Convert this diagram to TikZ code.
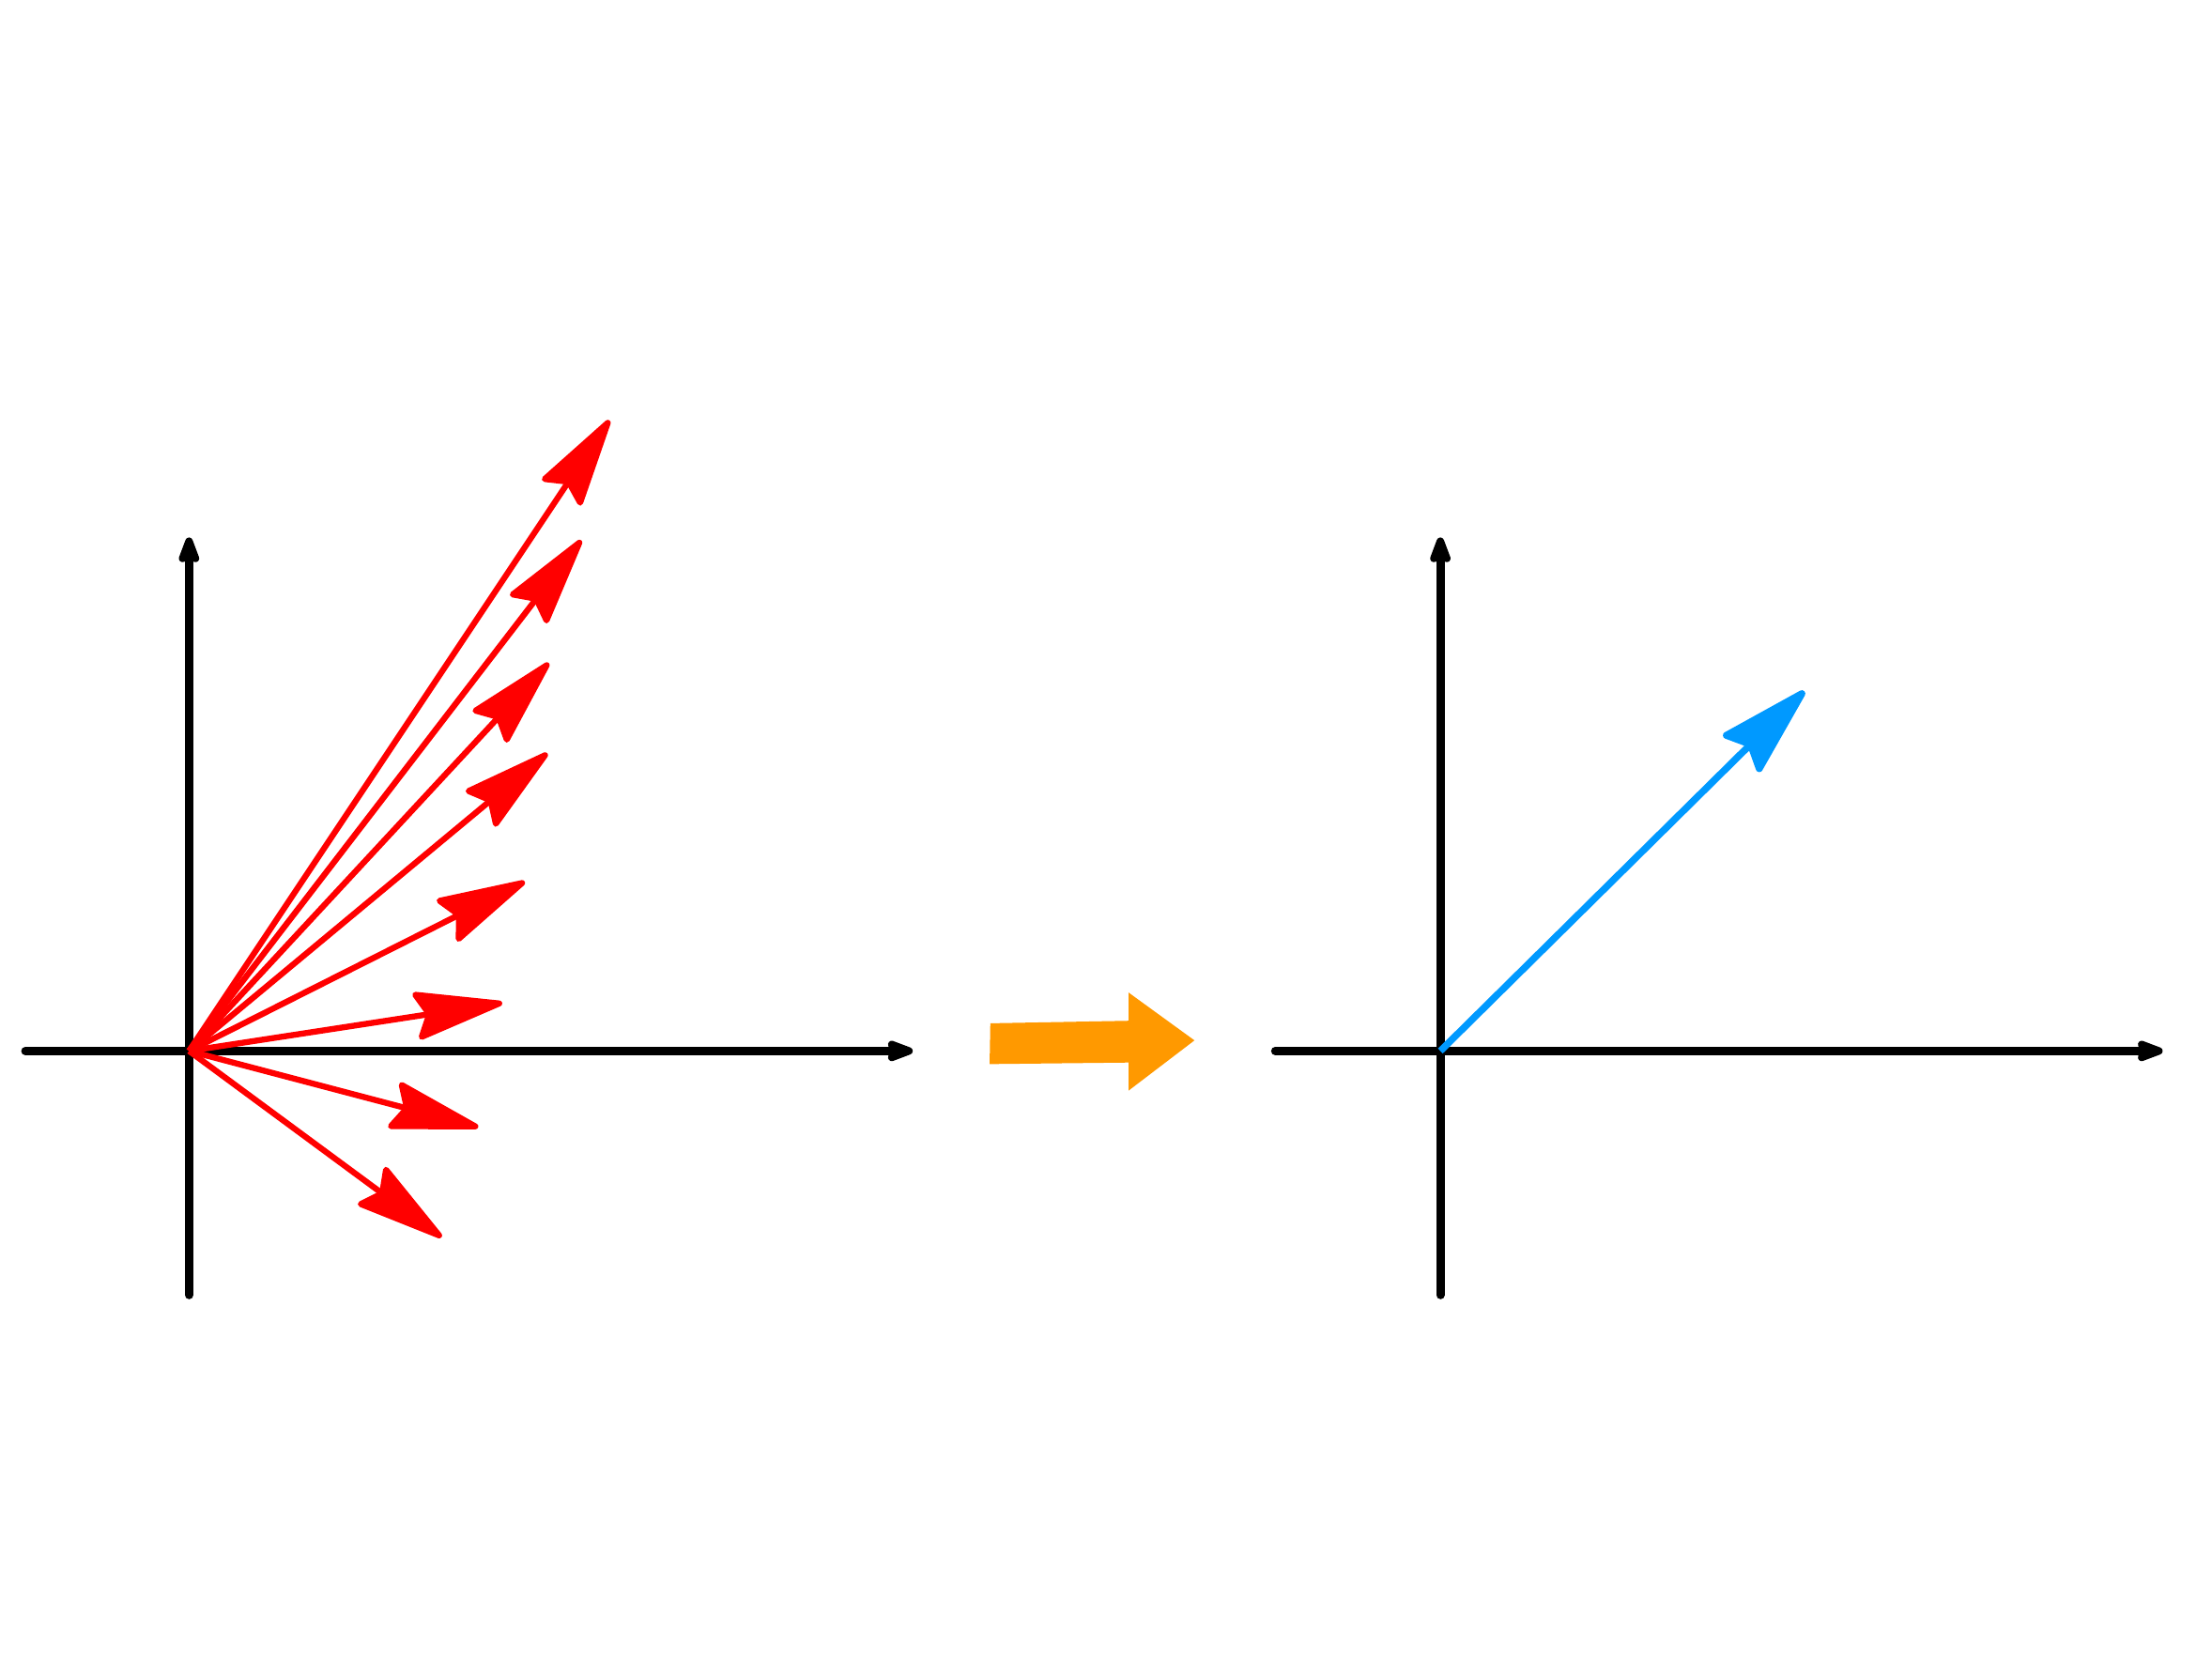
\documentclass[tikz,border=0pt]{standalone}
\usepackage{xcolor}
\definecolor{vecred}{RGB}{255,0,0}
\definecolor{vecblue}{RGB}{0,153,255}
\definecolor{maporange}{RGB}{255,153,0}
\usepackage{tikz}
\usetikzlibrary{
  arrows.meta
}

\begin{document}
\begin{tikzpicture}[
    axis/.style={
      line width=1.7pt, line cap=round,
      -{Stealth[length=0.24cm, width=0.17cm, inset=0.03cm, round]}
    },
    redvec/.style={
      line width=1.2pt, vecred,
      -{Stealth[length=0.7cm, width=0.36cm, inset=0.09cm, round]}
    },
    bluevec/.style={
      line width=1.4pt, vecblue,
      -{Stealth[length=0.72cm, width=0.4cm, inset=0.09cm, round]}
    }
  ]
  \useasboundingbox (-1.34,-4.31) rectangle (14.34,7.45);

  %% ===== LEFT axes: many vectors =====
  \coordinate (oL)  at (0,0);
  \coordinate (xLa) at (-1.16,0);
  \coordinate (xLb) at (5.13,0);
  \coordinate (yLa) at (0,-1.73);
  \coordinate (yLb) at (0,3.64);

  \draw[axis] (xLa) -- (xLb);
  \draw[axis] (yLa) -- (yLb);

  \coordinate (v1) at (2.98,4.47);
  \coordinate (v2) at (2.78,3.62);
  \coordinate (v3) at (2.55,2.75);
  \coordinate (v4) at (2.54,2.11);
  \coordinate (v5) at (2.38,1.20);
  \coordinate (v6) at (2.22,0.34);
  \coordinate (v7) at (2.05,-0.54);
  \coordinate (v8) at (1.79,-1.32);

  \draw[redvec] (oL) -- (v1);
  \draw[redvec] (oL) -- (v2);
  \draw[redvec] (oL) -- (v3);
  \draw[redvec] (oL) -- (v4);
  \draw[redvec] (oL) -- (v5);
  \draw[redvec] (oL) -- (v6);
  \draw[redvec] (oL) -- (v7);
  \draw[redvec] (oL) -- (v8);

  %% ===== Block arrow between the two =====
  \fill[maporange] (5.68,0.196) -- (6.66,0.214) -- (6.66,0.414) -- (7.127,0.075)
    -- (6.66,-0.281) -- (6.66,-0.082) -- (5.675,-0.093) -- cycle;

  %% ===== RIGHT axes: one vector =====
  \coordinate (oR)  at (8.87,0);
  \coordinate (xRa) at (7.70,0);
  \coordinate (xRb) at (13.99,0);
  \coordinate (yRa) at (8.87,-1.73);
  \coordinate (yRb) at (8.87,3.64);

  \draw[axis] (xRa) -- (xRb);
  \draw[axis] (yRa) -- (yRb);

  \coordinate (w) at (11.45,2.55);
  \draw[bluevec] (oR) -- (w);
\end{tikzpicture}
\end{document}
